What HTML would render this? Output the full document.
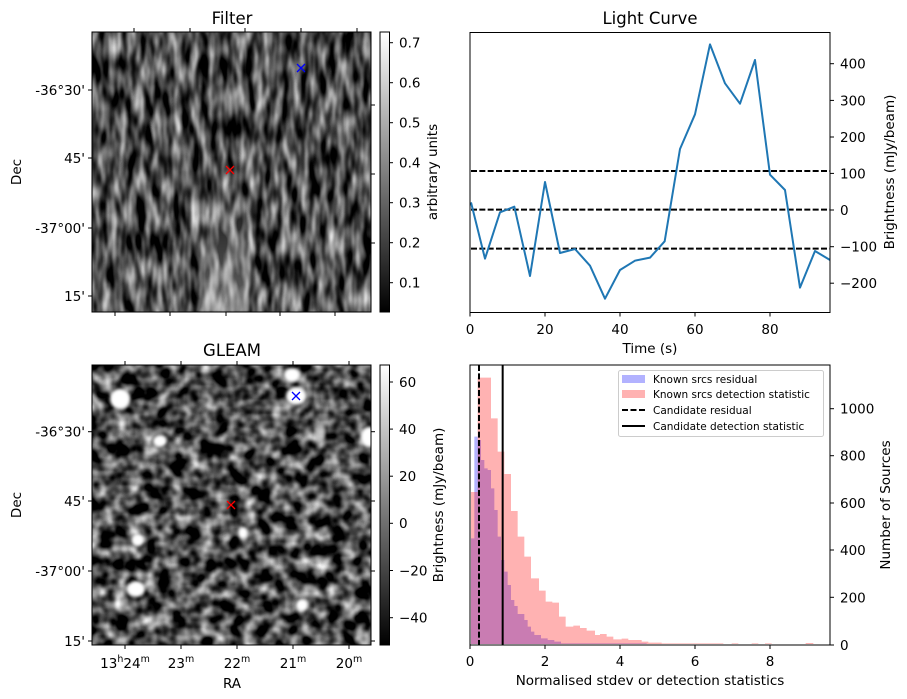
<!DOCTYPE html>
<html><head><meta charset="utf-8"><style>
html,body{margin:0;padding:0;background:#fff}
svg{display:block;font-family:"DejaVu Sans","Liberation Sans",sans-serif}
</style></head><body>
<svg width="907" height="699" viewBox="0 0 907 699" xmlns="http://www.w3.org/2000/svg">
<defs>
<filter id="fnoise" x="0" y="0" width="100%" height="100%" filterUnits="userSpaceOnUse" color-interpolation-filters="sRGB">
<feTurbulence type="fractalNoise" baseFrequency="0.11 0.035" numOctaves="2" seed="3" result="t"/>
<feColorMatrix type="matrix" values="1 0 0 0 0 1 0 0 0 0 1 0 0 0 0 0 0 0 0 1"/>
<feComponentTransfer><feFuncR type="linear" slope="1.5" intercept="-0.45"/><feFuncG type="linear" slope="1.5" intercept="-0.45"/><feFuncB type="linear" slope="1.5" intercept="-0.45"/></feComponentTransfer>
</filter>
<filter id="gnoise" x="0" y="0" width="100%" height="100%" filterUnits="userSpaceOnUse" color-interpolation-filters="sRGB">
<feTurbulence type="fractalNoise" baseFrequency="0.07" numOctaves="2" seed="7"/>
<feColorMatrix type="matrix" values="1 0 0 0 0 1 0 0 0 0 1 0 0 0 0 0 0 0 0 1"/>
<feComponentTransfer><feFuncR type="linear" slope="1.8" intercept="-0.6"/><feFuncG type="linear" slope="1.8" intercept="-0.6"/><feFuncB type="linear" slope="1.8" intercept="-0.6"/></feComponentTransfer>
</filter>
<linearGradient id="cb" x1="0" y1="1" x2="0" y2="0"><stop offset="0" stop-color="#000"/><stop offset="1" stop-color="#fff"/></linearGradient>
<linearGradient id="streak" x1="0" y1="0" x2="0" y2="1"><stop offset="0" stop-color="#fff" stop-opacity="0"/><stop offset="1" stop-color="#fff" stop-opacity="0.4"/></linearGradient>
<filter id="blur3"><feGaussianBlur stdDeviation="1.2"/></filter>
<filter id="blur1"><feGaussianBlur stdDeviation="1.5"/></filter>
<clipPath id="c1"><rect x="92" y="32" width="279" height="280"/></clipPath>
<clipPath id="c2"><rect x="92" y="365" width="279" height="280"/></clipPath>
</defs>

<!-- FILTER panel -->
<text x="232" y="24" font-size="16.5" text-anchor="middle">Filter</text>
<g clip-path="url(#c1)">
<rect x="92" y="32" width="279" height="280" fill="#444"/>
<rect x="92" y="32" width="279" height="280" filter="url(#fnoise)"/>
<polygon points="222,160 240,160 250,312 196,312" fill="url(#streak)" filter="url(#blur3)"/>
</g>
<rect x="92" y="32" width="279" height="280" fill="none" stroke="#000" stroke-width="1"/>
<g stroke="#000" stroke-width="1">
<line x1="88" y1="90" x2="92" y2="90"/><line x1="88" y1="158" x2="92" y2="158"/><line x1="88" y1="228" x2="92" y2="228"/><line x1="88" y1="296" x2="92" y2="296"/>
<line x1="371" y1="105" x2="375" y2="105"/><line x1="371" y1="174" x2="375" y2="174"/><line x1="371" y1="243" x2="375" y2="243"/>
<line x1="134" y1="28" x2="134" y2="32"/><line x1="190" y1="28" x2="190" y2="32"/><line x1="245" y1="28" x2="245" y2="32"/><line x1="301" y1="28" x2="301" y2="32"/><line x1="357" y1="28" x2="357" y2="32"/>
<line x1="115" y1="312" x2="115" y2="316"/><line x1="170" y1="312" x2="170" y2="316"/><line x1="226" y1="312" x2="226" y2="316"/><line x1="280" y1="312" x2="280" y2="316"/><line x1="335" y1="312" x2="335" y2="316"/>
</g>
<g font-size="13.5" text-anchor="end">
<text x="85" y="95">-36°30'</text><text x="85" y="163">45'</text><text x="85" y="233">-37°00'</text><text x="85" y="301">15'</text>
</g>
<text transform="translate(21,172) rotate(-90)" font-size="13.5" text-anchor="middle">Dec</text>
<g stroke-width="1.3" fill="none">
<path d="M297,64 l8,8 M305,64 l-8,8" stroke="#00f"/>
<path d="M226,166 l8,8 M234,166 l-8,8" stroke="#f00"/>
</g>
<rect x="380" y="32" width="9.5" height="280" fill="url(#cb)" stroke="#000" stroke-width="1"/>
<g stroke="#000"><line x1="389.5" y1="42.7" x2="393" y2="42.7"/><line x1="389.5" y1="82.7" x2="393" y2="82.7"/><line x1="389.5" y1="122.7" x2="393" y2="122.7"/><line x1="389.5" y1="162.7" x2="393" y2="162.7"/><line x1="389.5" y1="202.7" x2="393" y2="202.7"/><line x1="389.5" y1="242.7" x2="393" y2="242.7"/><line x1="389.5" y1="282.7" x2="393" y2="282.7"/></g>
<g font-size="13.5"><text x="399" y="47.7">0.7</text><text x="399" y="87.7">0.6</text><text x="399" y="127.7">0.5</text><text x="399" y="167.7">0.4</text><text x="399" y="207.7">0.3</text><text x="399" y="247.7">0.2</text><text x="399" y="287.7">0.1</text></g>
<text transform="translate(437,172) rotate(-90)" font-size="13.5" text-anchor="middle">arbitrary units</text>

<!-- GLEAM panel -->
<text x="232" y="356" font-size="16.5" text-anchor="middle">GLEAM</text>
<g clip-path="url(#c2)">
<rect x="92" y="365" width="279" height="280" fill="#555"/>
<rect x="92" y="365" width="279" height="280" filter="url(#gnoise)"/>
<g fill="#fff" filter="url(#blur1)">
<ellipse cx="120" cy="399" rx="10" ry="10"/><ellipse cx="292" cy="375" rx="8" ry="7"/><ellipse cx="296" cy="396" rx="10" ry="9"/>
<ellipse cx="160" cy="441" rx="7" ry="6"/><ellipse cx="369" cy="437" rx="8" ry="10"/><ellipse cx="138" cy="540" rx="6" ry="6"/>
<ellipse cx="136" cy="589" rx="9" ry="8"/><ellipse cx="243" cy="533" rx="5" ry="6"/><ellipse cx="302" cy="605" rx="6" ry="6"/>
<ellipse cx="320" cy="433" rx="5" ry="9" opacity="0.5"/>
</g>
</g>
<rect x="92" y="365" width="279" height="280" fill="none" stroke="#000" stroke-width="1"/>
<g stroke="#000" stroke-width="1">
<line x1="88" y1="431.7" x2="92" y2="431.7"/><line x1="88" y1="501" x2="92" y2="501"/><line x1="88" y1="571" x2="92" y2="571"/><line x1="88" y1="641" x2="92" y2="641"/>
<line x1="371" y1="431.7" x2="375" y2="431.7"/><line x1="371" y1="501" x2="375" y2="501"/><line x1="371" y1="571" x2="375" y2="571"/><line x1="371" y1="641" x2="375" y2="641"/>
<line x1="125" y1="361" x2="125" y2="365"/><line x1="181" y1="361" x2="181" y2="365"/><line x1="237" y1="361" x2="237" y2="365"/><line x1="293" y1="361" x2="293" y2="365"/><line x1="349" y1="361" x2="349" y2="365"/>
<line x1="125" y1="645" x2="125" y2="649"/><line x1="181" y1="645" x2="181" y2="649"/><line x1="237" y1="645" x2="237" y2="649"/><line x1="293" y1="645" x2="293" y2="649"/><line x1="349" y1="645" x2="349" y2="649"/>
</g>
<g font-size="13.5" text-anchor="end">
<text x="85" y="436.7">-36°30'</text><text x="85" y="506">45'</text><text x="85" y="576">-37°00'</text><text x="85" y="646">15'</text>
</g>
<text transform="translate(21,505) rotate(-90)" font-size="13.5" text-anchor="middle">Dec</text>
<g font-size="13.5" text-anchor="middle">
<text x="125" y="668">13<tspan font-size="9.5" dy="-6">h</tspan><tspan dy="6">24</tspan><tspan font-size="9.5" dy="-6">m</tspan></text>
<text x="181" y="668">23<tspan font-size="9.5" dy="-6">m</tspan></text>
<text x="237" y="668">22<tspan font-size="9.5" dy="-6">m</tspan></text>
<text x="293" y="668">21<tspan font-size="9.5" dy="-6">m</tspan></text>
<text x="349" y="668">20<tspan font-size="9.5" dy="-6">m</tspan></text>
</g>
<text x="232" y="688" font-size="13.5" text-anchor="middle">RA</text>
<g stroke-width="1.3" fill="none">
<path d="M292,392 l8,8 M300,392 l-8,8" stroke="#00f"/>
<path d="M227,501 l8,8 M235,501 l-8,8" stroke="#f00"/>
</g>
<rect x="380" y="365" width="9.5" height="280" fill="url(#cb)" stroke="#000" stroke-width="1"/>
<g stroke="#000"><line x1="389.5" y1="382" x2="393" y2="382"/><line x1="389.5" y1="429.1" x2="393" y2="429.1"/><line x1="389.5" y1="476.2" x2="393" y2="476.2"/><line x1="389.5" y1="523.3" x2="393" y2="523.3"/><line x1="389.5" y1="570.5" x2="393" y2="570.5"/><line x1="389.5" y1="617.7" x2="393" y2="617.7"/></g>
<g font-size="13.5"><text x="399" y="387">60</text><text x="399" y="434">40</text><text x="399" y="481">20</text><text x="399" y="528">0</text><text x="399" y="575.5">−20</text><text x="399" y="622.7">−40</text></g>
<text transform="translate(443,505) rotate(-90)" font-size="13.5" text-anchor="middle">Brightness (mJy/beam)</text>

<!-- Light curve -->
<text x="650" y="24" font-size="16.5" text-anchor="middle">Light Curve</text>
<g transform="translate(460,30) scale(0.33333)">
<g stroke="#000" stroke-width="6" stroke-dasharray="18,7">
<line x1="33" y1="423" x2="1110" y2="423"/><line x1="33" y1="539" x2="1110" y2="539"/><line x1="33" y1="656" x2="1110" y2="656"/>
</g>
<polyline fill="none" stroke="#1f77b4" stroke-width="6" stroke-linejoin="round" points="33,517 75,686 120,547 163,530 210,738 255,456 300,669 345,657 390,707 435,806 480,720 525,692 570,683 614,634 660,357 705,253 750,43 795,160 840,221 885,90 930,434 975,480 1020,773 1065,663 1110,690"/>
</g>
<rect x="470" y="32.5" width="360" height="280" fill="none" stroke="#000" stroke-width="1"/>
<g stroke="#000">
<line x1="470" y1="312.5" x2="470" y2="316.5"/><line x1="545" y1="312.5" x2="545" y2="316.5"/><line x1="620" y1="312.5" x2="620" y2="316.5"/><line x1="695" y1="312.5" x2="695" y2="316.5"/><line x1="770" y1="312.5" x2="770" y2="316.5"/>
<line x1="830" y1="63.7" x2="834" y2="63.7"/><line x1="830" y1="100.4" x2="834" y2="100.4"/><line x1="830" y1="137" x2="834" y2="137"/><line x1="830" y1="173.4" x2="834" y2="173.4"/><line x1="830" y1="210" x2="834" y2="210"/><line x1="830" y1="246.7" x2="834" y2="246.7"/><line x1="830" y1="283.2" x2="834" y2="283.2"/>
</g>
<g font-size="13.5" text-anchor="middle"><text x="470" y="334">0</text><text x="545" y="334">20</text><text x="620" y="334">40</text><text x="695" y="334">60</text><text x="770" y="334">80</text></g>
<text x="650" y="353" font-size="13.5" text-anchor="middle">Time (s)</text>
<g font-size="13.5"><text x="840" y="68.7">400</text><text x="840" y="105.4">300</text><text x="840" y="142">200</text><text x="840" y="178.4">100</text><text x="840" y="215">0</text><text x="840" y="251.7">−100</text><text x="840" y="288.2">−200</text></g>
<text transform="translate(894,172) rotate(-90)" font-size="13.5" text-anchor="middle">Brightness (mJy/beam)</text>

<!-- Histogram -->
<g transform="translate(460,360) scale(0.33333)">
<g fill="#0000ff" fill-opacity="0.3">
<path d="M33,852V535H43V230H53V240H63V300H73V325H83V330H93V385H103V450H113V530H123V600H133V635H143V675H153V720H163V738H173V762H193V780H203V800H213V815H223V825H243V835H263V840H283V845H303V850H560V852Z"/>
</g>
<g fill="#ff0000" fill-opacity="0.3">
<path d="M33,852V396H53V53H93V175H113V275H133V342H153V453H173V530H193V590H213V655H237V692H257V725H277V728H297V770H317V800H340V797H360V804H380V812H405V825H420V822H440V830H460V838H485V836H505V840H545V845H565V848H605V850H630V852Z"/>
<path d="M630,852V850H790V852Z M815,852V850H835V852Z M875,852V850H895V852Z M915,852V850H935V852Z M1037,852V849H1060V852Z"/>
</g>
<line x1="57" y1="15" x2="57" y2="855" stroke="#000" stroke-width="6" stroke-dasharray="18,7"/>
<line x1="128" y1="15" x2="128" y2="855" stroke="#000" stroke-width="6"/>
</g>
<rect x="470" y="365" width="360" height="280" fill="none" stroke="#000" stroke-width="1"/>
<g stroke="#000">
<line x1="470" y1="645" x2="470" y2="649"/><line x1="545" y1="645" x2="545" y2="649"/><line x1="620" y1="645" x2="620" y2="649"/><line x1="695" y1="645" x2="695" y2="649"/><line x1="770" y1="645" x2="770" y2="649"/>
<line x1="830" y1="645" x2="834" y2="645"/><line x1="830" y1="597.3" x2="834" y2="597.3"/><line x1="830" y1="550" x2="834" y2="550"/><line x1="830" y1="503" x2="834" y2="503"/><line x1="830" y1="455.7" x2="834" y2="455.7"/><line x1="830" y1="408.7" x2="834" y2="408.7"/>
</g>
<g font-size="13.5" text-anchor="middle"><text x="470" y="666">0</text><text x="545" y="666">2</text><text x="620" y="666">4</text><text x="695" y="666">6</text><text x="770" y="666">8</text></g>
<text x="650" y="685" font-size="13.5" text-anchor="middle">Normalised stdev or detection statistics</text>
<g font-size="13.5"><text x="840" y="650">0</text><text x="840" y="602.3">200</text><text x="840" y="555">400</text><text x="840" y="508">600</text><text x="840" y="460.7">800</text><text x="840" y="413.7">1000</text></g>
<text transform="translate(890,505) rotate(-90)" font-size="13.5" text-anchor="middle">Number of Sources</text>
<!-- legend -->
<rect x="618.5" y="370.5" width="205" height="66" rx="2" fill="#fff" fill-opacity="0.8" stroke="#ccc"/>
<rect x="622" y="375" width="23" height="8" fill="#b2b2ff"/>
<rect x="622" y="390" width="23" height="8" fill="#ffb2b2"/>
<line x1="622" y1="410" x2="645" y2="410" stroke="#000" stroke-width="2" stroke-dasharray="6,2.5"/>
<line x1="622" y1="426" x2="645" y2="426" stroke="#000" stroke-width="2"/>
<g font-size="10.5"><text x="653" y="383">Known srcs residual</text><text x="653" y="398">Known srcs detection statistic</text><text x="653" y="414">Candidate residual</text><text x="653" y="430">Candidate detection statistic</text></g>
</svg>
</body></html>
